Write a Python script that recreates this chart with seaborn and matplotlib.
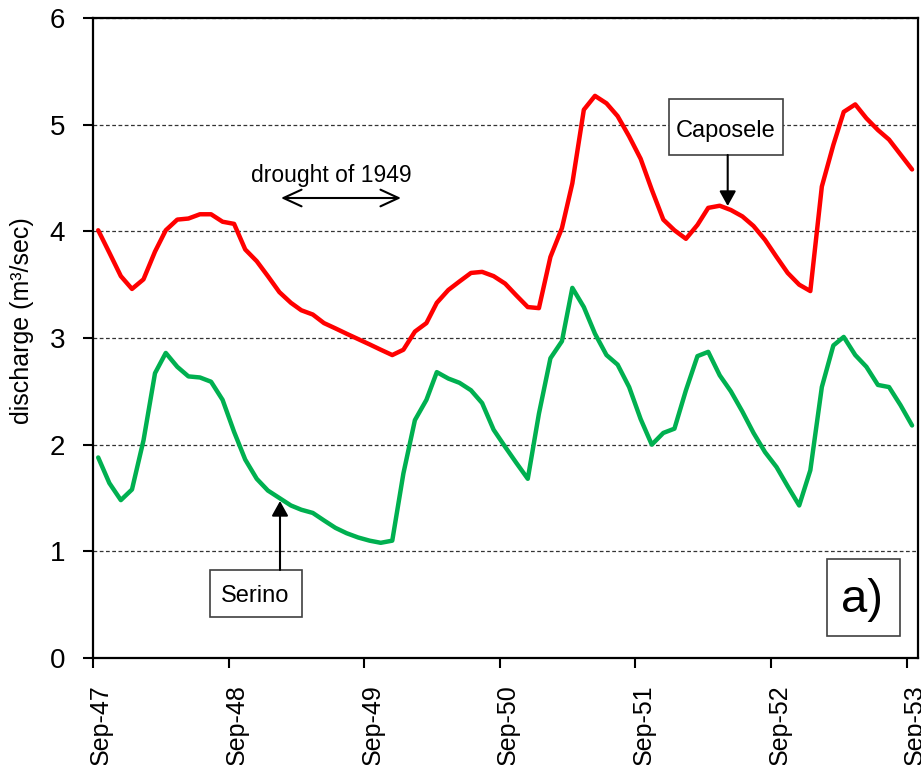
import numpy as np
import pandas as pd
import matplotlib
matplotlib.use("Agg")
import matplotlib.pyplot as plt
import matplotlib.dates as mdates
import matplotlib.transforms as mtransforms
from matplotlib.patches import Rectangle
import seaborn as sns

# ---------------- data (monthly discharge, m3/sec) ----------------
caposele = [4.01, 3.80, 3.58, 3.46, 3.55, 3.81, 4.01, 4.11, 4.12, 4.16, 4.16, 4.09,
            4.07, 3.83, 3.72, 3.58, 3.43, 3.33, 3.26, 3.22, 3.14, 3.09, 3.04, 2.99,
            2.94, 2.89, 2.84, 2.89, 3.06, 3.14, 3.33, 3.45, 3.53, 3.61, 3.62, 3.58,
            3.51, 3.40, 3.29, 3.28, 3.76, 4.03, 4.45, 5.14, 5.27, 5.20, 5.08, 4.89,
            4.68, 4.39, 4.11, 4.01, 3.93, 4.06, 4.22, 4.24, 4.20, 4.14, 4.05, 3.92,
            3.76, 3.61, 3.50, 3.44, 4.42, 4.81, 5.12, 5.19, 5.06, 4.95, 4.86, 4.72,
            4.58]
serino = [1.88, 1.64, 1.48, 1.58, 2.04, 2.67, 2.86, 2.73, 2.64, 2.63, 2.59, 2.42,
          2.12, 1.86, 1.68, 1.57, 1.50, 1.43, 1.39, 1.36, 1.29, 1.22, 1.17, 1.13,
          1.10, 1.08, 1.10, 1.73, 2.23, 2.42, 2.68, 2.62, 2.58, 2.51, 2.39, 2.14,
          1.98, 1.83, 1.68, 2.29, 2.81, 2.97, 3.47, 3.29, 3.04, 2.84, 2.75, 2.54,
          2.24, 2.00, 2.11, 2.15, 2.51, 2.83, 2.87, 2.65, 2.50, 2.31, 2.11, 1.93,
          1.79, 1.61, 1.43, 1.76, 2.54, 2.93, 3.01, 2.84, 2.73, 2.56, 2.54, 2.37,
          2.18]
months = pd.date_range("1947-09-01", periods=len(caposele), freq="MS") + pd.Timedelta(days=14)
tick_dates = pd.to_datetime(["1947-09-01", "1948-09-01", "1949-09-01", "1950-09-01",
                             "1951-09-01", "1952-09-01", "1953-09-01"])
tick_labels = ["Sep-47", "Sep-48", "Sep-49", "Sep-50", "Sep-51", "Sep-52", "Sep-53"]
y_ticks = [0, 1, 2, 3, 4, 5, 6]
series_names = ["Caposele", "Serino"]
series_colors = {"Caposele": "#FF0000", "Serino": "#00B050"}

df = pd.DataFrame({
    "date": list(months) * 2,
    "discharge": caposele + serino,
    "spring": ["Caposele"] * len(caposele) + ["Serino"] * len(serino),
})

# ---------------- figure ----------------
sns.set_style("white")
plt.rcParams["font.family"] = ["Liberation Sans", "DejaVu Sans"]
plt.rcParams["text.color"] = "black"
plt.rcParams["axes.labelcolor"] = "black"

W, H = 921, 765
fig = plt.figure(figsize=(W / 100, H / 100), dpi=100)
L, R, T, B = 93, 918, 18, 658
ax = fig.add_axes([L / W, 1 - B / H, (R - L) / W, (B - T) / H])

sns.lineplot(data=df, x="date", y="discharge", hue="spring", palette=series_colors,
             hue_order=series_names, linewidth=3.2, legend=False, ax=ax,
             solid_joinstyle="round", solid_capstyle="round", zorder=3)

ax.set_xlim(pd.Timestamp("1947-09-01"), pd.Timestamp("1953-10-01"))
ax.set_ylim(0, 6)
ax.set_yticks(y_ticks)
ax.set_yticklabels([str(v) for v in y_ticks], fontsize=20)
ax.set_xticks(tick_dates)
ax.set_xticklabels(tick_labels, fontsize=18, rotation=90)
ax.set_xlabel("")
ax.set_ylabel("discharge (m³/sec)", fontsize=18)
ax.yaxis.set_label_coords((34 - L) / (R - L), (B - 321) / (B - T))

ax.yaxis.grid(True, linestyle=(0, (3, 2)), color="#333333", linewidth=0.9)
ax.xaxis.grid(False)
ax.set_axisbelow(True)

for s in ax.spines.values():
    s.set_visible(True)
    s.set_color("black")
    s.set_linewidth(1.6)

ax.tick_params(axis="y", which="major", left=True, direction="out", length=7, width=1.5,
               pad=13, colors="black")
ax.tick_params(axis="x", which="major", bottom=True, direction="out", length=7, width=1.5,
               pad=12, colors="black")

offset = mtransforms.ScaledTranslation(8 / 100, 0, fig.dpi_scale_trans)
for lab in ax.get_xticklabels():
    lab.set_transform(lab.get_transform() + offset)


# ---------------- annotations (positions in pixels -> axes fraction) ----------------
def axx(px):
    return (px - L) / (R - L)


def axy(py):
    return (B - py) / (B - T)


def box(x0, y0, x1, y1):
    ax.add_patch(Rectangle((axx(x0), axy(y1)), axx(x1) - axx(x0), axy(y0) - axy(y1),
                           transform=ax.transAxes, facecolor="white", edgecolor="#404040",
                           linewidth=1.2, zorder=6))


# drought arrow
ax.text(axx(331), axy(182), "drought of 1949", transform=ax.transAxes, ha="center",
        va="baseline", fontsize=16.5, zorder=7)
ax.annotate("", xy=(axx(401), axy(198)), xytext=(axx(281), axy(198)),
            xycoords="axes fraction", textcoords="axes fraction",
            arrowprops=dict(arrowstyle="<->,head_length=0.65,head_width=0.3", lw=1.5,
                            color="black", shrinkA=0, shrinkB=0, mutation_scale=20),
            zorder=7)

# Caposele label
box(669, 99, 783, 155)
ax.text(axx(726), axy(137), "Caposele", transform=ax.transAxes, ha="center",
        va="baseline", fontsize=17, zorder=7)
ax.annotate("", xy=(axx(727.7), axy(206)), xytext=(axx(727.7), axy(155)),
            xycoords="axes fraction", textcoords="axes fraction",
            arrowprops=dict(arrowstyle="-|>,head_length=0.45,head_width=0.25", lw=1.5,
                            color="black", shrinkA=0, shrinkB=0, mutation_scale=20),
            zorder=7)

# Serino label
box(210, 570, 301.7, 616.7)
ax.text(axx(255.5), axy(601.5), "Serino", transform=ax.transAxes, ha="center",
        va="baseline", fontsize=17, zorder=7)
ax.annotate("", xy=(axx(280), axy(501)), xytext=(axx(280), axy(570)),
            xycoords="axes fraction", textcoords="axes fraction",
            arrowprops=dict(arrowstyle="-|>,head_length=0.45,head_width=0.25", lw=1.5,
                            color="black", shrinkA=0, shrinkB=0, mutation_scale=20),
            zorder=7)

# panel label
box(826.7, 559, 900, 635.7)
ax.text(axx(862), axy(612), "a)", transform=ax.transAxes, ha="center",
        va="baseline", fontsize=34, zorder=7)

fig.savefig("out.png", dpi=100)
